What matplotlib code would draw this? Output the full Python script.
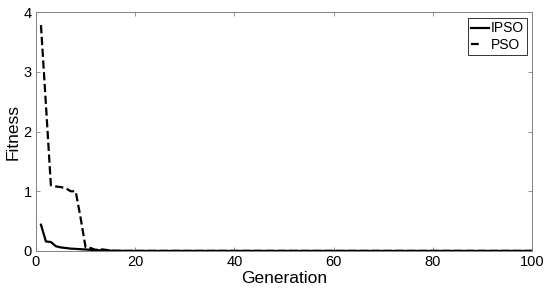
import matplotlib
matplotlib.use("Agg")
import matplotlib.pyplot as plt

plt.rcParams['font.family'] = ['Liberation Sans', 'DejaVu Sans']

generations = list(range(1, 101))

ipso = [0.44, 0.16, 0.15, 0.08, 0.06, 0.05, 0.04, 0.035, 0.03, 0.025,
        0.02, 0.015, 0.012, 0.01, 0.006, 0.004, 0.003, 0.002, 0.002, 0.001,
        0.001, 0.001, 0.001, 0.001, 0.001, 0.001, 0.001, 0.001, 0.001, 0.001,
        0.001, 0.001, 0.001, 0.001, 0.001, 0.001, 0.001, 0.001, 0.001, 0.001,
        0.001, 0.001, 0.001, 0.001, 0.001, 0.001, 0.001, 0.001, 0.001, 0.001,
        0.001, 0.001, 0.001, 0.001, 0.001, 0.001, 0.001, 0.001, 0.001, 0.001,
        0.001, 0.001, 0.001, 0.001, 0.001, 0.001, 0.001, 0.001, 0.001, 0.001,
        0.001, 0.001, 0.001, 0.001, 0.001, 0.001, 0.001, 0.001, 0.001, 0.001,
        0.001, 0.001, 0.001, 0.001, 0.001, 0.001, 0.001, 0.001, 0.001, 0.001,
        0.001, 0.001, 0.001, 0.001, 0.001, 0.001, 0.001, 0.001, 0.001, 0.001]

pso = [3.78, 2.45, 1.10, 1.08, 1.07, 1.05, 1.00, 1.00, 0.55, 0.06,
       0.05, 0.02, 0.03, 0.02, 0.005, 0.002, 0.002, 0.002, 0.002, 0.002,
       0.002, 0.002, 0.002, 0.002, 0.002, 0.002, 0.002, 0.002, 0.002, 0.002,
       0.002, 0.002, 0.002, 0.002, 0.002, 0.002, 0.002, 0.002, 0.002, 0.002,
       0.002, 0.002, 0.002, 0.002, 0.002, 0.002, 0.002, 0.002, 0.002, 0.002,
       0.002, 0.002, 0.002, 0.002, 0.002, 0.002, 0.002, 0.002, 0.002, 0.002,
       0.002, 0.002, 0.002, 0.002, 0.002, 0.002, 0.002, 0.002, 0.002, 0.002,
       0.002, 0.002, 0.002, 0.002, 0.002, 0.002, 0.002, 0.002, 0.002, 0.002,
       0.002, 0.002, 0.002, 0.002, 0.002, 0.002, 0.002, 0.002, 0.002, 0.002,
       0.002, 0.002, 0.002, 0.002, 0.002, 0.002, 0.002, 0.002, 0.002, 0.002]

series_labels = ["IPSO", "PSO"]
x_ticks = [0, 20, 40, 60, 80, 100]
y_ticks = [0, 1, 2, 3, 4]

fig = plt.figure(figsize=(5.5, 3.0), dpi=100)
ax = fig.add_axes([36/550, 49/300, 496/550, 239/300])

ax.plot(generations, ipso, color='black', lw=1.6, linestyle='-', label=series_labels[0])
ax.plot(generations, pso, color='black', lw=1.6, linestyle='--', label=series_labels[1])

ax.set_xlim(0, 100)
ax.set_ylim(0, 4)
ax.set_xticks(x_ticks)
ax.set_yticks(y_ticks)

for s in ax.spines.values():
    s.set_color('#808080')
    s.set_linewidth(0.7)
ax.tick_params(direction='in', length=3, width=0.6, color='#808080',
               top=True, right=True, labelsize=10.5, pad=3, labelcolor='black')

ax.set_xlabel("Generation", fontsize=12.5, labelpad=1)
ax.set_ylabel("Fitness", fontsize=12.5, labelpad=2)

leg = ax.legend(loc='upper right', bbox_to_anchor=(0.99, 0.975), borderaxespad=0,
                fontsize=10, frameon=True, fancybox=False, handlelength=1.3,
                handletextpad=0.1, borderpad=0.25, labelspacing=0.15)
leg.get_frame().set_edgecolor('black')
leg.get_frame().set_linewidth(0.7)
leg.get_lines()[1].set_dashes([3.5, 10])

fig.savefig("out.png", dpi=100)
